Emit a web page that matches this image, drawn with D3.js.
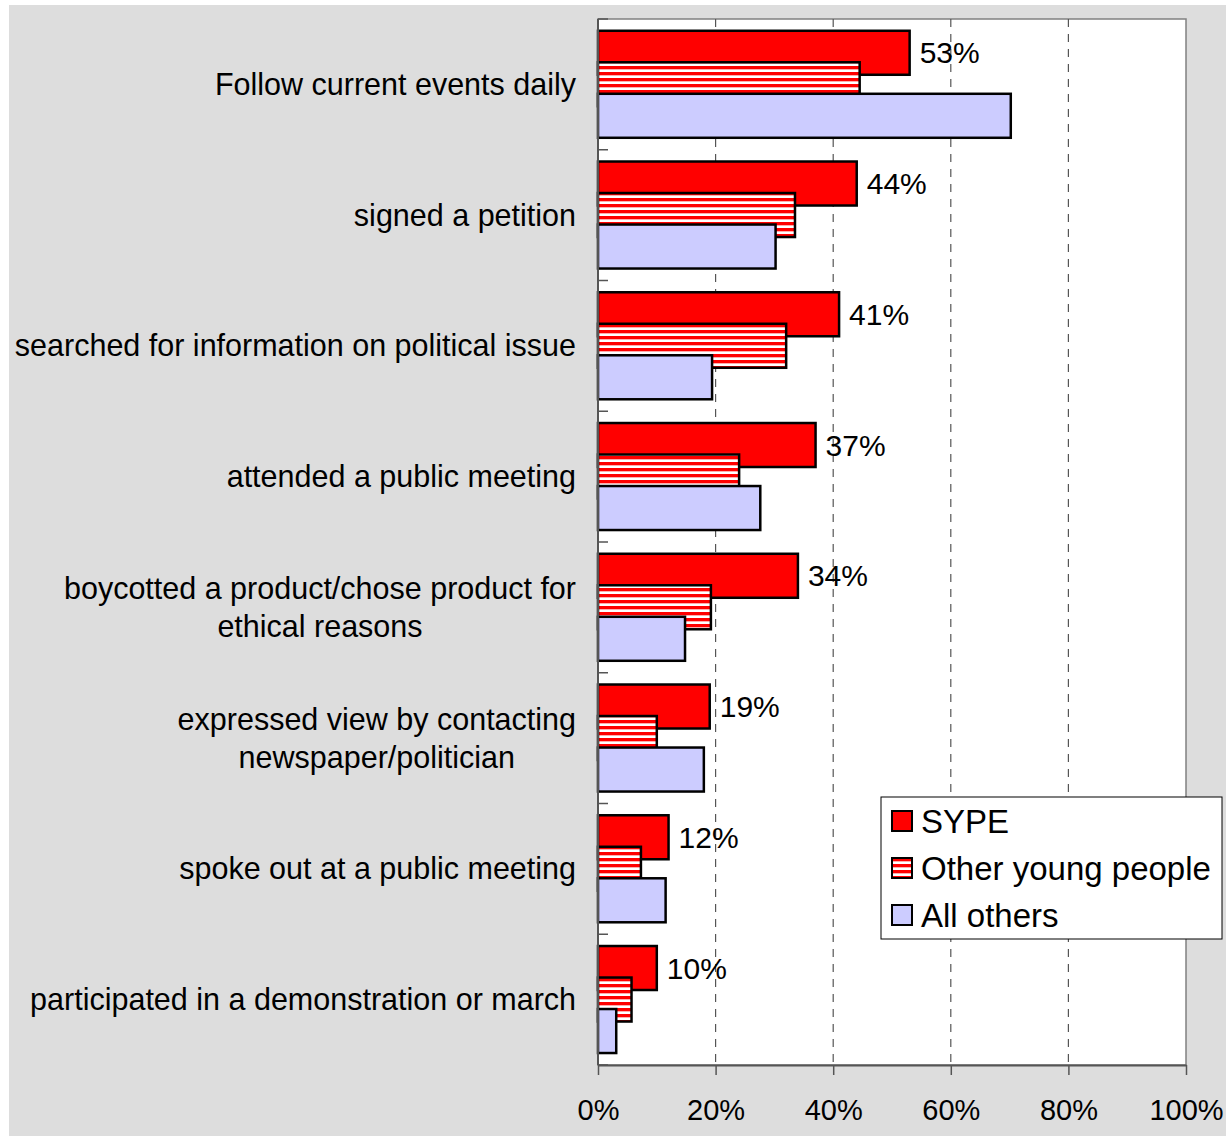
<!DOCTYPE html>
<html>
<head>
<meta charset="utf-8">
<script src="https://cdn.jsdelivr.net/npm/d3@7/dist/d3.min.js"></script>
<style>
  body { margin: 0; background: #ffffff; }
  svg { display: block; }
  text { font-family: "Liberation Sans", Arial, sans-serif; fill: #000; }
</style>
</head>
<body>
<svg id="chart" width="1226" height="1136"></svg>
<script>
// ---- data ----
const categories = [
  ["Follow current events daily"],
  ["signed a petition"],
  ["searched for information on political issue"],
  ["attended a public meeting"],
  ["boycotted a product/chose product for", "ethical reasons"],
  ["expressed view by contacting", "newspaper/politician"],
  ["spoke out at a public meeting"],
  ["participated in a demonstration or march"]
];
const seriesNames = ["SYPE", "Other young people", "All others"];
const sypeValues = [53, 44, 41, 37, 34, 19, 12, 10];
const otherYoungValues = [44.5, 33.5, 32, 24, 19.2, 10, 7.3, 5.7];
const allOthersValues = [70.2, 30.2, 19.4, 27.6, 14.8, 18, 11.5, 3.1];
const sypeLabels = ["53%", "44%", "41%", "37%", "34%", "19%", "12%", "10%"];
const xTicks = [0, 20, 40, 60, 80, 100];

// ---- layout ----
const svg = d3.select("#chart");
const W = 1226, H = 1136;
const plot = { left: 598, right: 1186, top: 19, bottom: 1065 };
const CAT_FONT = 30.5, TICK_FONT = 29, LABEL_FONT = 30, LEGEND_FONT = 33;

svg.append("rect").attr("x", 9).attr("y", 5).attr("width", W - 9).attr("height", H - 5)
  .attr("fill", "#dddddd");

const defs = svg.append("defs");
const pat = defs.append("pattern").attr("id", "stripes").attr("patternUnits", "userSpaceOnUse")
  .attr("width", 8).attr("height", 6);
pat.append("rect").attr("width", 8).attr("height", 6).attr("fill", "#ffffff");
pat.append("rect").attr("width", 8).attr("height", 3.2).attr("fill", "#ff0000");
pat.append("rect").attr("y", 3.2).attr("width", 8).attr("height", 0.6).attr("fill", "#ff9999");

const fills = ["#ff0000", "url(#stripes)", "#ccccff"];
const seriesValues = [sypeValues, otherYoungValues, allOthersValues];

const x = d3.scaleLinear().domain([0, 100]).range([plot.left, plot.right]);
const idx = d3.range(categories.length);
const y = d3.scaleBand().domain(idx).range([plot.top, plot.bottom]).padding(0);
const bw = y.bandwidth();
const barH = bw * 0.3365;
const step = bw * 0.241;
const groupTop = bw * 0.09;

// plot area
svg.append("rect").attr("x", plot.left).attr("y", plot.top)
  .attr("width", plot.right - plot.left).attr("height", plot.bottom - plot.top)
  .attr("fill", "#ffffff").attr("stroke", "#808080").attr("stroke-width", 1.5);

// gridlines
svg.append("g").selectAll("line").data(xTicks.filter(d => d > 0 && d < 100)).join("line")
  .attr("x1", d => x(d)).attr("x2", d => x(d))
  .attr("y1", plot.top).attr("y2", plot.bottom)
  .attr("stroke", "#555").attr("stroke-width", 1.2).attr("stroke-dasharray", "8,7");

// bars (later series on top)
seriesValues.forEach((vals, s) => {
  svg.append("g").selectAll("rect").data(idx).join("rect")
    .attr("x", x(0))
    .attr("y", i => y(i) + groupTop + s * step)
    .attr("width", i => x(vals[i]) - x(0))
    .attr("height", barH)
    .attr("fill", fills[s])
    .attr("stroke", "#000").attr("stroke-width", 2.5);
});

// data labels for SYPE
svg.append("g").selectAll("text").data(idx).join("text")
  .attr("x", i => x(sypeValues[i]) + 10)
  .attr("y", i => y(i) + groupTop + barH / 2 + 10.5)
  .attr("font-size", LABEL_FONT)
  .text(i => sypeLabels[i]);

// left axis
svg.append("line").attr("x1", plot.left).attr("x2", plot.left)
  .attr("y1", plot.top).attr("y2", plot.bottom)
  .attr("stroke", "#555").attr("stroke-width", 2);
const boundaries = idx.map(i => y(i)).concat([plot.bottom]);
svg.append("g").selectAll("line").data(boundaries).join("line")
  .attr("x1", plot.left).attr("x2", plot.left + 10)
  .attr("y1", d => d).attr("y2", d => d)
  .attr("stroke", "#555").attr("stroke-width", 1.5);

// bottom axis
const xAxis = d3.axisBottom(x).tickValues(xTicks).tickFormat(d => d + "%").tickSize(10).tickSizeOuter(0);
const gx = svg.append("g").attr("transform", `translate(0,${plot.bottom})`).call(xAxis);
gx.select(".domain").attr("stroke", "#555").attr("stroke-width", 2);
gx.selectAll(".tick line").attr("stroke", "#555").attr("stroke-width", 1.5);
gx.selectAll(".tick text").attr("font-size", TICK_FONT).attr("y", 55).attr("dy", 0)
  .attr("font-family", "Liberation Sans, Arial, sans-serif").attr("fill", "#000");

// category labels
const labelRight = 576;
const lineGap = 38;
idx.forEach(i => {
  const lines = categories[i];
  const cy = y(i) + bw / 2;
  const t = svg.append("text").attr("font-size", CAT_FONT);
  if (lines.length === 1) {
    t.attr("x", labelRight).attr("y", cy + 10.5).attr("text-anchor", "end").text(lines[0]);
  } else {
    const tmp = svg.append("text").attr("font-size", CAT_FONT);
    let maxW = 0;
    lines.forEach(l => { tmp.text(l); maxW = Math.max(maxW, tmp.node().getComputedTextLength()); });
    tmp.remove();
    const cx = labelRight - maxW / 2;
    const y0 = cy - (lines.length - 1) * lineGap / 2 + 10.5;
    t.attr("text-anchor", "middle");
    lines.forEach((l, k) => {
      t.append("tspan").attr("x", cx).attr("y", y0 + k * lineGap).text(l);
    });
  }
});

// legend
const lg = svg.append("g");
lg.append("rect").attr("x", 881).attr("y", 797).attr("width", 341).attr("height", 142)
  .attr("fill", "#fff").attr("stroke", "#000").attr("stroke-width", 1);
seriesNames.forEach((name, s) => {
  const yy = 811 + s * 47;
  lg.append("rect").attr("x", 892).attr("y", yy).attr("width", 20).attr("height", 20)
    .attr("fill", fills[s]).attr("stroke", "#000").attr("stroke-width", 2);
  lg.append("text").attr("x", 921).attr("y", yy + 22).attr("font-size", LEGEND_FONT).text(name);
});
</script>
</body>
</html>
